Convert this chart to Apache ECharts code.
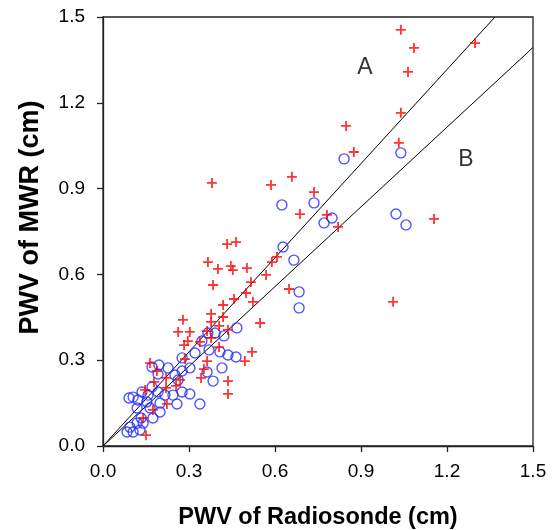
<!DOCTYPE html>
<html>
<head>
<meta charset="utf-8">
<script src="https://cdn.jsdelivr.net/npm/echarts@6/dist/echarts.min.js"></script>
<style>html,body{margin:0;padding:0;background:#fff}#c{width:557px;height:530px}</style>
</head>
<body>
<div id="c"></div>
<script>
// Circles (blue): [PWV radiosonde, PWV MWR]
const circleData = [
  [1.039,1.025],[0.841,1.004],[1.022,0.811],[1.057,0.773],[0.624,0.843],[0.736,0.850],
  [0.771,0.780],[0.799,0.797],[0.628,0.696],[0.666,0.650],[0.684,0.539],[0.684,0.483],
  [0.467,0.413],[0.422,0.385],[0.391,0.395],[0.366,0.395],[0.345,0.367],[0.321,0.325],
  [0.370,0.336],[0.408,0.329],[0.436,0.318],[0.464,0.311],[0.276,0.308],[0.303,0.273],
  [0.276,0.262],[0.415,0.273],[0.363,0.259],[0.384,0.227],[0.303,0.182],[0.276,0.189],
  [0.258,0.147],[0.338,0.147],[0.171,0.276],[0.195,0.283],[0.192,0.252],[0.227,0.273],
  [0.262,0.231],[0.171,0.206],[0.105,0.171],[0.136,0.189],[0.157,0.178],[0.192,0.189],
  [0.216,0.178],[0.244,0.178],[0.122,0.161],[0.153,0.154],[0.199,0.150],[0.091,0.168],
  [0.119,0.133],[0.164,0.133],[0.199,0.119],[0.133,0.098],[0.174,0.098],[0.119,0.080],
  [0.140,0.080],[0.094,0.066],[0.105,0.049],[0.084,0.049],[0.129,0.056],[0.251,0.248]
];
// Pluses (red)
const plusData = [
  [1.039,1.455],[1.085,1.392],[1.064,1.308],[1.298,1.409],[1.039,1.165],[1.032,1.060],
  [1.155,0.794],[1.012,0.504],[0.875,1.028],[0.848,1.119],[0.659,0.941],[0.586,0.913],
  [0.736,0.888],[0.687,0.811],[0.781,0.808],[0.820,0.766],[0.607,0.661],[0.589,0.643],
  [0.569,0.598],[0.649,0.549],[0.548,0.430],[0.502,0.622],[0.380,0.920],[0.433,0.706],
  [0.464,0.713],[0.366,0.643],[0.401,0.619],[0.446,0.629],[0.453,0.615],[0.516,0.573],
  [0.384,0.563],[0.499,0.535],[0.457,0.514],[0.523,0.504],[0.419,0.493],[0.377,0.462],
  [0.419,0.451],[0.377,0.434],[0.405,0.420],[0.436,0.406],[0.279,0.441],[0.363,0.402],
  [0.303,0.399],[0.262,0.399],[0.377,0.378],[0.338,0.364],[0.296,0.367],[0.283,0.353],
  [0.405,0.346],[0.520,0.329],[0.495,0.297],[0.286,0.304],[0.363,0.297],[0.352,0.269],
  [0.342,0.238],[0.436,0.227],[0.436,0.182],[0.164,0.290],[0.188,0.262],[0.178,0.224],
  [0.220,0.238],[0.147,0.196],[0.220,0.203],[0.255,0.210],[0.269,0.231],[0.223,0.147],
  [0.174,0.126],[0.140,0.098],[0.150,0.038]
];
// Reference lines through the origin
const slopeA = 1.097;
const slopeB = 0.929;
const axisMax = 1.5;
const tickStep = 0.3;
const lineAData = [[0,0],[axisMax/slopeA, axisMax]];
const lineBData = [[0,0],[axisMax, axisMax*slopeB]];
const lineLabels = [{name:'A', value:[0.914,1.322]},{name:'B', value:[1.266,1.000]}];

const FONT = 'Liberation Sans, Arial, sans-serif';
const plusPath = 'path://M4.1,0H5.9V4.1H10V5.9H5.9V10H4.1V5.9H0V4.1H4.1Z';
const chart = echarts.init(document.getElementById('c'), null, {renderer:'canvas'});
const axisCommon = {
  type:'value', min:0, max:axisMax, interval:tickStep,
  axisLine:{show:true, onZero:false, lineStyle:{color:'#222', width:1.3}},
  axisTick:{show:true, inside:false, length:6, lineStyle:{color:'#222', width:1.3}},
  axisLabel:{color:'#000', fontFamily:FONT, fontSize:19, formatter:v=>v.toFixed(1)},
  splitLine:{show:false},
  nameLocation:'middle'
};
chart.setOption({
  animation:false,
  grid:{left:103, right:24, top:17, bottom:84, containLabel:false, outerBoundsMode:'none',
    show:true, borderColor:'#222', borderWidth:1.3, backgroundColor:'transparent'},
  xAxis:Object.assign({}, axisCommon, {name:'PWV of Radiosonde (cm)', nameGap:60,
    nameTextStyle:{color:'#000', fontFamily:FONT, fontSize:23.5, fontWeight:'bold'},
    axisLabel:Object.assign({}, axisCommon.axisLabel, {margin:16})}),
  yAxis:Object.assign({}, axisCommon, {name:'PWV of MWR (cm)', nameGap:59,
    nameTextStyle:{color:'#000', fontFamily:FONT, fontSize:27, fontWeight:'bold', padding:[0,0,0,28]},
    axisLabel:Object.assign({}, axisCommon.axisLabel, {margin:18})}),
  series:[
    {type:'line', data:lineAData, symbol:'none', lineStyle:{color:'#000', width:1}, z:1},
    {type:'line', data:lineBData, symbol:'none', lineStyle:{color:'#000', width:1}, z:1},
    {type:'scatter', data:circleData, symbol:'circle', symbolSize:10,
      itemStyle:{color:'rgba(0,0,0,0)', borderColor:'#1f2cff', borderWidth:1.4}, z:2},
    {type:'scatter', data:plusData, symbol:plusPath, symbolSize:10,
      itemStyle:{color:'#ff0000'}, z:3},
    {type:'scatter', data:lineLabels, symbolSize:0,
      label:{show:true, position:'inside', formatter:p=>p.name, color:'#000', fontFamily:FONT, fontSize:23}, z:4}
  ]
});
</script>
</body>
</html>
